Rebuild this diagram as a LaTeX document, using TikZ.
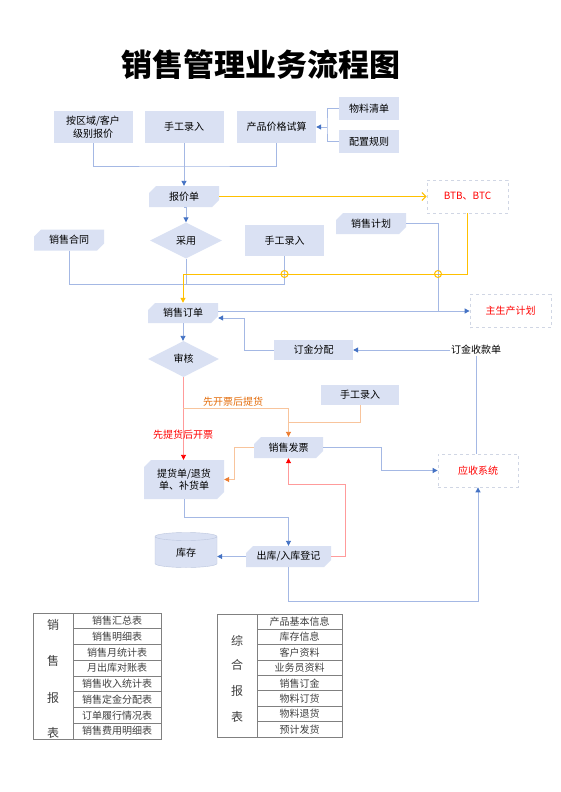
\documentclass[tikz,border=0pt]{standalone}
\usepackage{fontspec}
\setmainfont{Noto Sans CJK SC}
\usepackage{tikz}
\usetikzlibrary{shapes.misc,shapes.geometric,arrows.meta}
\definecolor{boxfill}{HTML}{DAE1F3}
\definecolor{cylline}{HTML}{BCC6DE}
\definecolor{lineblue}{HTML}{A4B8E4}
\definecolor{tipblue}{HTML}{4472C4}
\definecolor{linegold}{HTML}{FFC000}
\definecolor{lineorange}{HTML}{F8C49C}
\definecolor{tiporange}{HTML}{ED7D31}
\definecolor{textorange}{HTML}{E46C0A}
\definecolor{linered}{HTML}{FF9B9B}
\definecolor{dashgray}{HTML}{D0D6E4}
\definecolor{tablegray}{HTML}{808080}
\definecolor{tabletext}{HTML}{404040}
\tikzset{
  boxfont/.style={font=\fontsize{10}{12.5}\selectfont},
  plainbox/.style={boxfont, fill=boxfill, minimum width=79pt, minimum height=32pt, align=center, inner sep=1pt},
  docbox/.style={boxfont, chamfered rectangle, chamfered rectangle corners={north west,south east},
    chamfered rectangle xsep=3.5pt, chamfered rectangle ysep=3.5pt, fill=boxfill,
    minimum width=70pt, minimum height=21pt, align=center, inner sep=1pt},
  decide/.style={boxfont, diamond, fill=boxfill, minimum width=72pt, minimum height=36pt, inner sep=0pt},
  extbox/.style={boxfont, draw=dashgray, dashed, line width=0.8pt, text=red, minimum width=81pt, minimum height=33pt},
  blueline/.style={draw=lineblue, line width=0.9pt},
  blueflow/.style={blueline, -{Triangle[length=5pt,width=5pt,color=tipblue]}},
  goldline/.style={draw=linegold, line width=1pt},
  goldflow/.style={goldline, -{Triangle[length=5pt,width=5pt]}},
  goldopen/.style={goldline, -{Straight Barb[length=4pt,width=8pt]}},
  orangeline/.style={draw=lineorange, line width=0.9pt},
  orangeflow/.style={orangeline, -{Triangle[length=5pt,width=5pt,color=tiporange]}},
  redflow/.style={draw=linered, line width=0.9pt, -{Triangle[length=5pt,width=5pt,color=red]}},
  tablecell/.style={font=\fontsize{10}{12}\selectfont, text=tabletext, inner sep=0pt},
  tablehead/.style={font=\fontsize{12}{14}\selectfont, text=tabletext, inner sep=0pt}
}
\begin{document}
\begin{tikzpicture}[x=1pt,y=-1pt]
        \useasboundingbox[fill=white] (0,0) rectangle (560,792);

        \node[font=\fontsize{31}{34}\selectfont\bfseries] (title) at (261,65) {销售管理业务流程图};

        \node[plainbox] (region) at (93,127) {按区域/客户\\级别报价};
        \node[plainbox] (manualA) at (184,127) {手工录入};
        \node[plainbox] (pricing) at (276.5,127) {产品价格试算};
        \node[plainbox, minimum width=60pt, minimum height=23pt] (bom) at (369,108.5) {物料清单};
        \node[plainbox, minimum width=60pt, minimum height=23pt] (config) at (369,141.5) {配置规则};
        \node[docbox] (quote) at (184,196.5) {报价单};
        \node[extbox] (btb) at (467.5,196.5) {BTB、BTC};
        \node[decide] (adopt) at (186,240.5) {采用};
        \node[docbox] (contract) at (69,240) {销售合同};
        \node[plainbox, minimum height=31pt] (manualB) at (284.5,240.5) {手工录入};
        \node[docbox] (plan) at (371,223.5) {销售计划};
        \node[docbox, minimum height=20pt] (order) at (183,313) {销售订单};
        \node[extbox] (mps) at (510.5,311) {主生产计划};
        \node[decide, minimum width=71pt] (audit) at (183.5,359) {审核};
        \node[plainbox, minimum height=20pt] (deposit) at (313.5,350) {订金分配};
        \node[boxfont, inner sep=1pt] (receipt) at (476,350) {订金收款单};
        \node[plainbox, minimum width=78pt, minimum height=20pt] (manualC) at (360,395) {手工录入};
        \node[docbox, minimum width=69pt] (invoice) at (288.5,447.5) {销售发票};
        \node[docbox, minimum width=80pt, minimum height=39pt] (delivery) at (184,479.5) {提货单/退货\\单、补货单};
        \node[extbox, minimum width=80pt] (ar) at (478,470.5) {应收系统};
        \node[docbox, minimum width=85pt] (stockio) at (288.5,556.5) {出库/入库登记};
        \node[boxfont, cylinder, shape border rotate=90, aspect=0.3, fill=boxfill, draw=cylline,
              minimum width=62pt, minimum height=35pt] (stock) at (186,553) {库存};

        \coordinate (quoteMerge) at (184,166);
        \coordinate (cfgJoin) at (327,127);
        \coordinate (goldCorner) at (183,274);
        \coordinate (orderMerge) at (186,284);
        \coordinate (planDrop) at (438,311);
        \coordinate (depositTurn) at (244,318);
        \coordinate (invoiceSplit) at (183,408);
        \coordinate (manualJoin) at (288.5,422);

        \draw[blueline] (region.south) |- (quoteMerge) -| (pricing.south);
        \draw[blueflow] (manualA.south) -- (quote.north);
        \draw[blueline] (bom.west) -| (cfgJoin) |- (config.west);
        \draw[blueflow] (cfgJoin) -- (pricing.east);
        \draw[blueflow] (quote.south) -- (quote.south -| adopt.north) -- (adopt.north);
        \draw[goldopen] (quote.east) -- (quote.east -| btb.west);

        \draw[blueline] (contract.south) |- (orderMerge);
        \draw[blueline] (adopt.south) -- (orderMerge);
        \draw[blueline] (manualB.south) |- (orderMerge);
        \draw[blueline] (plan.east) -| (planDrop);
        \draw[goldflow] (btb.south) |- (goldCorner) -- (order.north);
        \draw[goldline] (manualB.south |- goldCorner) circle (3.5pt);
        \draw[goldline] (planDrop |- goldCorner) circle (3.5pt);
        \draw[blueflow] (order.east |- mps.west) -- (mps.west);

        \draw[blueflow] (receipt.west) -- (deposit.east);
        \draw[blueflow] (deposit.west) -| (depositTurn) -- (order.east |- depositTurn);
        \draw[blueline] (receipt.south) -- (receipt.south |- ar.north);
        \draw[blueflow] (order.south) -- (order.south |- audit.north);

        \draw[redflow] (audit.south) -- (audit.south |- delivery.north);
        \node[text=red, boxfont] (afterLabel) at (183,435) {先提货后开票};
        \draw[orangeflow] (invoiceSplit) -| (invoice.north);
        \node[text=textorange, boxfont] (beforeLabel) at (233,402) {先开票后提货};
        \draw[orangeline] (manualC.south) |- (manualJoin);
        \draw[orangeflow] (invoice.west) -- ++(-19,0) |- (delivery.east);
        \draw[blueflow] (invoice.east) -- ++(58,0) |- (ar.west);

        \draw[blueflow] (delivery.south) -- ++(0,18) -| (stockio.north);
        \draw[blueflow] (stockio.west) -- (stockio.west -| stock.east);
        \draw[redflow] (stockio.east) -| ++(14,-72) -| (invoice.south);
        \draw[blueflow] (stockio.south) -- ++(0,34) -| (ar.south);

        \draw[tablegray, line width=0.8pt] (33,613) rectangle (161,739) (73,613) -- (73,739);
        \foreach \k in {1,...,7}
          \draw[tablegray, line width=0.8pt] (73,{613+15.75*\k}) -- (161,{613+15.75*\k});
        \foreach \name [count=\i] in {销售汇总表,销售明细表,销售月统计表,月出库对账表,销售收入统计表,销售定金分配表,订单履行情况表,销售费用明细表}
          \node[tablecell] (sales\i) at (117,{613+15.75*(\i-0.5)}) {\name};
        \foreach \ch/\yy in {销/625,售/661,报/698,表/733}
          \node[tablehead] at (53,\yy) {\ch};

        \draw[tablegray, line width=0.8pt] (217,614) rectangle (342,737) (257,614) -- (257,737);
        \foreach \k in {1,...,7}
          \draw[tablegray, line width=0.8pt] (257,{614+15.375*\k}) -- (342,{614+15.375*\k});
        \foreach \name [count=\i] in {产品基本信息,库存信息,客户资料,业务员资料,销售订金,物料订货,物料退货,预计发货}
          \node[tablecell] (general\i) at (299.5,{614+15.375*(\i-0.5)}) {\name};
        \foreach \ch/\yy in {综/641,合/665,报/691,表/717}
          \node[tablehead] at (237,\yy) {\ch};
    \end{tikzpicture}
\end{document}
